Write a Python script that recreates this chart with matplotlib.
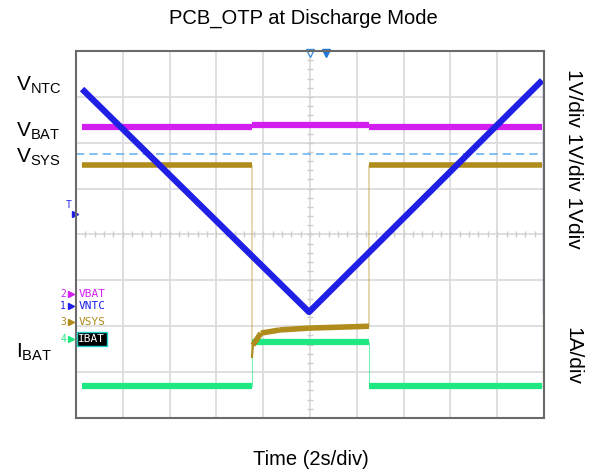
#!/usr/bin/env python3

import numpy as np
import matplotlib
matplotlib.use("Agg")
import matplotlib.pyplot as plt

plt.rcParams["font.family"] = ["Liberation Sans", "DejaVu Sans"]
plt.rcParams["mathtext.fontset"] = "custom"
plt.rcParams["mathtext.rm"] = "Liberation Sans"
plt.rcParams["mathtext.it"] = "Liberation Sans"

# time in seconds (2 s/div, 10 div), levels in divisions (8 div)
vntc_t = [0.26, 9.96, 19.92]
vntc_v = [7.17, 2.31, 7.36]

vbat_t = [0.26, 7.52, 7.52, 12.52, 12.52, 19.92]
vbat_v = [6.34, 6.34, 6.39, 6.39, 6.34, 6.34]

vsys_t = [0.26, 7.52, 7.52, 7.56, 7.90, 8.72, 9.96, 11.28, 12.52, 12.52, 19.92]
vsys_v = [5.51, 5.51, 1.33, 1.59, 1.85, 1.92, 1.96, 1.98, 2.00, 5.51, 5.51]

ibat_t = [0.26, 7.52, 7.52, 12.52, 12.52, 19.92]
ibat_v = [0.70, 0.70, 1.66, 1.66, 0.70, 0.70]

cursor_v = 5.75

c_ntc = "#1f1fe6"
c_bat = "#d21ff0"
c_sys = "#b08c1c"
c_ibat = "#1ee882"

fig = plt.figure(figsize=(5.93, 4.73), dpi=100)
ax = fig.add_axes([76 / 593, 55 / 473, 468 / 593, 367 / 473])
ax.set_xlim(0, 20)
ax.set_ylim(0, 8)
ax.set_xticks(np.arange(2, 20, 2))
ax.set_yticks(np.arange(1, 8, 1))
ax.tick_params(length=0, labelbottom=False, labelleft=False)
ax.grid(True, color="#dcdcdc", lw=1.3)
for s in ax.spines.values():
    s.set_color("#6a6a6a")
    s.set_linewidth(1.5)

# minor ticks on the centre lines
mx = np.arange(0.4, 20, 0.4)
ax.plot(mx, np.full_like(mx, 4.0), ls="none", marker="|", ms=4, mew=1, color="#cdcdcd")
my = np.arange(0.2, 8, 0.2)
ax.plot(np.full_like(my, 10.0), my, ls="none", marker="_", ms=4, mew=1, color="#cdcdcd")

ax.axhline(cursor_v, color="#6cb4f0", lw=1.2, ls=(0, (5, 3)))

# thin edges of the transitions
ax.plot(vsys_t, vsys_v, color=c_sys, lw=0.8, alpha=0.6)
ax.plot(ibat_t, ibat_v, color=c_ibat, lw=0.8, alpha=0.6)

def thick(t, v, c, lw, skip_from=None):
    # flat/sloped parts thick, vertical jumps left thin
    for i in range(len(t) - 1):
        if t[i] == t[i + 1]:
            continue
        if skip_from is not None and v[i] < skip_from:
            continue
        ax.plot(t[i:i + 2], v[i:i + 2], color=c, lw=lw, solid_capstyle="butt")

thick(ibat_t, ibat_v, c_ibat, 4.5)
thick(vsys_t, vsys_v, c_sys, 4.0, skip_from=1.5)
ax.plot(vsys_t[2:4], vsys_v[2:4], color=c_sys, lw=1.5)
thick(vbat_t, vbat_v, c_bat, 4.5)
ax.plot(vntc_t, vntc_v, color=c_ntc, lw=4.5, solid_capstyle="butt")
ax.plot([19.94, 19.94], [vntc_v[-1], 2.3], color=c_ntc, lw=0.9)
ax.plot([19.94, 19.94], [2.3, 0.7], color=c_sys, lw=0.9, alpha=0.7)

# top markers
ax.plot([10.0], [7.96], marker="v", ms=6, mfc="white", mec="#3d8fe0", clip_on=False)
ax.plot([10.7], [7.96], marker="v", ms=6, color="#1f78d8", clip_on=False)

# channel labels
chan = [("2", "VBAT", c_bat, 2.70), ("1", "VNTC", c_ntc, 2.45),
        ("3", "VSYS", c_sys, 2.10), ("4", "IBAT", c_ibat, 1.72)]
for num, name, c, y in chan:
    ax.text(-0.55, y, num, color=c, fontsize=7, family="DejaVu Sans Mono",
            ha="center", va="center", clip_on=False)
    ax.plot([-0.2], [y], marker=">", ms=4, color=c, clip_on=False)
    if name == "IBAT":
        ax.text(0.1, y, name, color="white", fontsize=8, family="DejaVu Sans Mono",
                va="center", bbox=dict(fc="black", ec="#1fd0d0", lw=1, pad=1.2))
    else:
        ax.text(0.1, y, name, color=c, fontsize=8, family="DejaVu Sans Mono", va="center")

ax.text(-0.2, 4.65, "T", color=c_ntc, fontsize=7, ha="right", va="center", clip_on=False)
ax.plot([-0.05], [4.45], marker=">", ms=4, color=c_ntc, clip_on=False)

fig.text(303 / 593, 1 - 18 / 473, "PCB_OTP at Discharge Mode", fontsize=14.5,
         ha="center", va="center")
fig.text(311 / 593, 1 - 459 / 473, "Time (2s/div)", fontsize=14.5,
         ha="center", va="center")

for lab, y in [("NTC", 85), ("BAT", 131), ("SYS", 157), ("BAT", 352)]:
    head = "I" if y == 352 else "V"
    fig.text(16 / 593, 1 - y / 473, head + r"$_{\mathrm{" + lab + "}}$", fontsize=15,
             ha="left", va="center")

fig.text(573 / 593, 1 - 159 / 473, "1V/div 1V/div 1Vdiv", fontsize=15,
         rotation=-90, ha="center", va="center")
fig.text(573 / 593, 1 - 356 / 473, "1A/div", fontsize=15,
         rotation=-90, ha="center", va="center")

fig.savefig("out.png", dpi=100)
